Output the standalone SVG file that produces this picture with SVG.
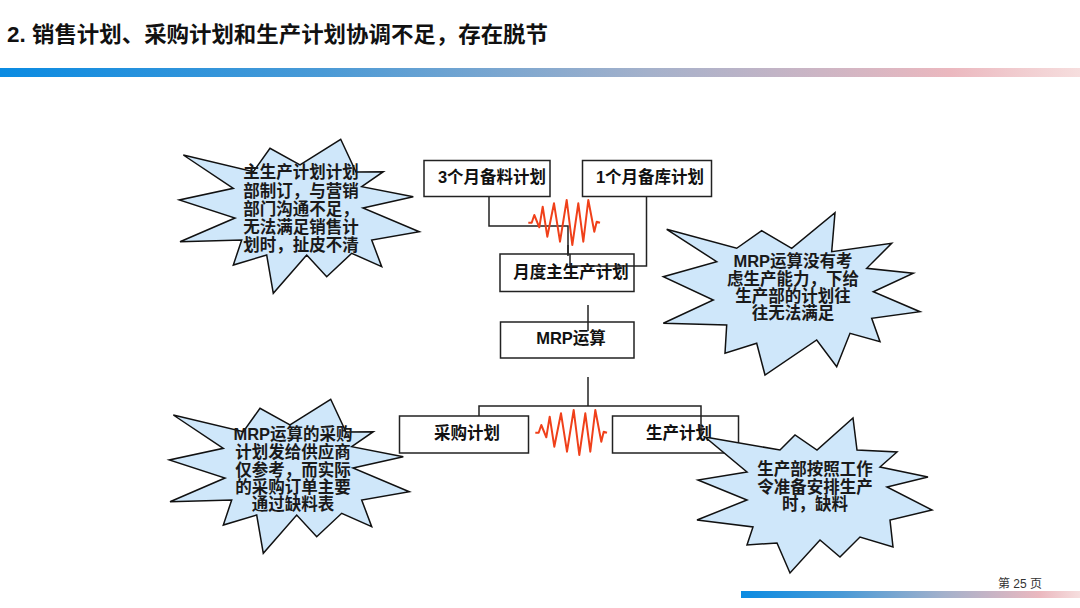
<svg xmlns="http://www.w3.org/2000/svg" width="1080" height="608" viewBox="0 0 1080 608">
<defs>
<linearGradient id="bar" x1="0" y1="0" x2="1" y2="0">
<stop offset="0" stop-color="#0a8be2"/>
<stop offset="0.3" stop-color="#4a9ad6"/>
<stop offset="0.6" stop-color="#a4b1cb"/>
<stop offset="0.88" stop-color="#ebb8bf"/>
<stop offset="1" stop-color="#f6dede"/>
</linearGradient>
<style>
.box{fill:#fff;stroke:#222;stroke-width:1.5}
.bt{font-family:"Liberation Sans","Noto Sans CJK SC",sans-serif;font-size:16.5px;font-weight:bold;fill:#111;text-anchor:middle}
.star{fill:#cfe7fa;stroke:#111;stroke-width:1.5;stroke-linejoin:miter}
.st{font-family:"Liberation Sans","Noto Sans CJK SC",sans-serif;font-size:16.5px;font-weight:bold;fill:#1a1a1a;text-anchor:middle}
.ln{fill:none;stroke:#222;stroke-width:1.5}
.zz{fill:none;stroke:#f0401a;stroke-width:2;stroke-linejoin:round}
</style>
<polyline id="zig" class="zz" points="528.3,222.7 531.7,222.7 534.3,215 539.3,227.3 542.7,206.7 547.3,236.7 554,203.3 560,241.7 566.7,200 572.3,245 578.3,203.3 583.3,241.7 588.3,200 594.3,231.7 596.7,221.7 600,222.7"/>
</defs>
<rect width="1080" height="608" fill="#fff"/>
<text x="7" y="42" font-family="Liberation Sans,'Noto Sans CJK SC',sans-serif" font-size="21.5" font-weight="bold" fill="#111" textLength="541" lengthAdjust="spacingAndGlyphs">2. 销售计划、采购计划和生产计划协调不足，存在脱节</text>
<rect x="0" y="68" width="1080" height="9" fill="url(#bar)"/>
<rect x="741" y="591" width="339" height="7" fill="url(#bar)"/>
<text x="998" y="588" font-family="Liberation Sans,'Noto Sans CJK SC',sans-serif" font-size="12" fill="#333">第 25 页</text>

<g id="star1">
<polygon class="star" points="340.7,139.3 356,172 383.3,171.7 361.7,186.7 413.3,196.7 363,208 419.3,231.7 371.7,240 381.7,266.7 351.7,253.3 326.7,276.7 306.7,255 273.3,293.3 266.7,255 233.3,265 241.7,240 180,241.7 235,218 179.3,200 233.3,188.3 183.3,155 253.3,171.7 270,148.3 300,165"/>
<text class="st" x="301" y="178">主生产计划计划</text>
<text class="st" x="301" y="197">部制订，与营销</text>
<text class="st" x="301" y="215">部门沟通不足，</text>
<text class="st" x="301" y="233">无法满足销售计</text>
<text class="st" x="301" y="251">划时，扯皮不清</text>
</g>

<g id="star2">
<polygon class="star" points="835,212.7 831.7,251.7 891.7,243.3 866.7,268.3 913.3,273.3 873.3,291.7 920,311.7 871.7,318.3 880,341.7 850,333.3 836.7,366.7 816.7,340 765,375 756.7,343.3 725,353.3 726.7,325 663.3,323.3 713.3,300 663.3,276.7 716.7,261.7 666.7,229.3 736.7,248.3 761.7,230.7 791.7,248.3"/>
<text class="st" x="793" y="267">MRP运算没有考</text>
<text class="st" x="793" y="285">虑生产能力，下给</text>
<text class="st" x="793" y="302">生产部的计划往</text>
<text class="st" x="793" y="319">往无法满足</text>
</g>

<g id="star3">
<polygon class="star" transform="translate(-10,260)" points="340.7,139.3 356,172 383.3,171.7 361.7,186.7 413.3,196.7 363,208 419.3,231.7 371.7,240 381.7,266.7 351.7,253.3 326.7,276.7 306.7,255 273.3,293.3 266.7,255 233.3,265 241.7,240 180,241.7 235,218 179.3,200 233.3,188.3 183.3,155 253.3,171.7 270,148.3 300,165"/>
<text class="st" x="293" y="440">MRP运算的采购</text>
<text class="st" x="293" y="458">计划发给供应商</text>
<text class="st" x="293" y="476">仅参考，而实际</text>
<text class="st" x="293" y="493">的采购订单主要</text>
<text class="st" x="293" y="510">通过缺料表</text>
</g>

<g id="n3m">
<rect class="box" x="424" y="160.5" width="126" height="36"/>
<text class="bt" x="492" y="183">3个月备料计划</text>
</g>
<g id="n1m">
<rect class="box" x="582.5" y="160.5" width="129" height="36"/>
<text class="bt" x="650" y="183">1个月备库计划</text>
</g>
<g id="nmps">
<rect class="box" x="500" y="254" width="134" height="37.5"/>
<text class="bt" x="571" y="278">月度主生产计划</text>
</g>
<g id="nmrp">
<rect class="box" x="500.5" y="322" width="133.5" height="36"/>
<text class="bt" x="571" y="344">MRP运算</text>
</g>
<g id="npur">
<rect class="box" x="399.5" y="416" width="129" height="37"/>
<text class="bt" x="467" y="439">采购计划</text>
</g>
<g id="nprod">
<rect class="box" x="612.5" y="416" width="126" height="37"/>
<text class="bt" x="679" y="439">生产计划</text>
</g>

<g id="connectors">
<polyline class="ln" points="489,197 489,226 568,226 568,254"/>
<line class="ln" x1="568" y1="245" x2="568" y2="256" stroke-width="2.5"/>
<polyline class="ln" points="646.5,197 646.5,266 570,266 570,254"/>
<line class="ln" x1="588" y1="305" x2="588" y2="331"/>
<polyline class="ln" points="588,377 588,406"/>
<polyline class="ln" points="479,416 479,406 701,406 701,435"/>
<use href="#zig"/>
<use href="#zig" transform="translate(7,210)"/>
</g>

<g id="star4">
<polygon class="star" points="705,437 780,450 795,435 817,450 853,418 857,450 897,452 880,467 928,477 887,487 932,510 890,520 893,547 860,537 840,557 820,540 790,573 777,543 747,545 753,527 697,520 747,500 698,480 747,472"/>
<text class="st" x="815" y="475">生产部按照工作</text>
<text class="st" x="815" y="493">令准备安排生产</text>
<text class="st" x="815" y="510">时，缺料</text>
</g>
</svg>
